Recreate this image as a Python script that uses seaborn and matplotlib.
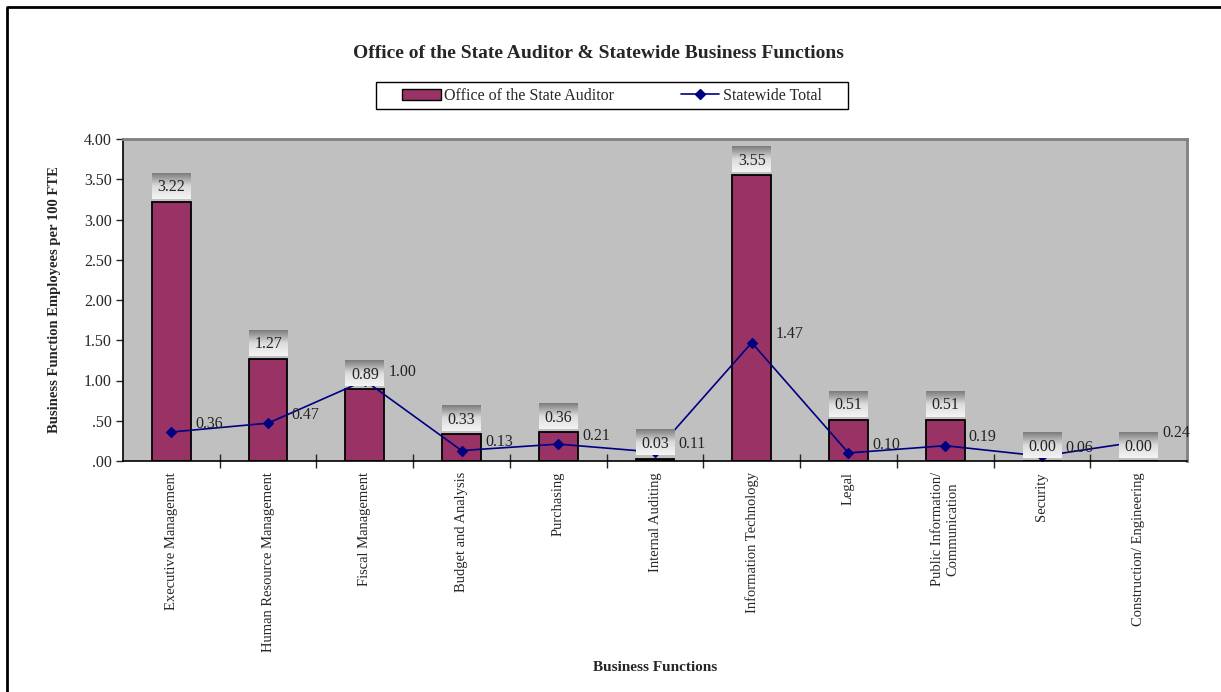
import numpy as np
import pandas as pd
import matplotlib
matplotlib.use("Agg")
import matplotlib.pyplot as plt
import seaborn as sns
from matplotlib.patches import Patch, Rectangle
from matplotlib.lines import Line2D
from matplotlib.colors import LinearSegmentedColormap
from matplotlib.ticker import FuncFormatter, FixedLocator

# data
functions = ["Executive Management", "Human Resource Management", "Fiscal Management",
             "Budget and Analysis", "Purchasing", "Internal Auditing",
             "Information Technology", "Legal", "Public Information/\nCommunication",
             "Security", "Construction/ Engineering"]
auditor = [3.22, 1.27, 0.89, 0.33, 0.36, 0.03, 3.55, 0.51, 0.51, 0.00, 0.00]
statewide = [0.36, 0.47, 1.00, 0.13, 0.21, 0.11, 1.47, 0.10, 0.19, 0.06, 0.24]

df = pd.DataFrame({"function": functions, "auditor": auditor, "statewide": statewide})

sns.set_theme(style="white")
plt.rcParams["font.family"] = ["Liberation Serif", "DejaVu Serif"]

bar_color = "#993366"
line_color = "#000080"

fig = plt.figure(figsize=(12.21, 6.92), dpi=100)
ax = fig.add_axes([123 / 1221, 1 - 461 / 692, (1187 - 123) / 1221, (461 - 139) / 692])
ax.set_facecolor("#c0c0c0")

sns.barplot(data=df, x="function", y="auditor", color=bar_color, saturation=1,
            width=0.4, edgecolor="black", linewidth=1.3, ax=ax, zorder=2)
sns.pointplot(data=df, x="function", y="statewide", color=line_color, markers="D",
              markersize=5, linewidth=1.2, errorbar=None, ax=ax)

# gradient label boxes above the bars
grad_cmap = LinearSegmentedColormap.from_list("lbl", ["#7c7c7c", "#dcdcdc", "#f4f4f4"])
grad = np.linspace(0, 1, 64).reshape(-1, 1)
for i, v in enumerate(auditor):
    ax.imshow(grad, cmap=grad_cmap, aspect="auto", interpolation="bilinear",
              extent=(i - 0.2, i + 0.2, v + 0.04, v + 0.36), zorder=4)
    ax.text(i, v + 0.18, f"{v:.2f}", ha="center", va="center", fontsize=11.5,
            color="#222222", zorder=5)

for i, v in enumerate(statewide):
    ax.annotate(f"{v:.2f}", (i, v), xytext=(17, 6), textcoords="offset points",
                ha="left", va="center", fontsize=11.5, color="#222222", zorder=5)

ax.set_xlim(-0.5, len(functions) - 0.5)
ax.set_ylim(0, 4)
ax.set_yticks(np.arange(0, 4.01, 0.5))
ax.yaxis.set_major_formatter(FuncFormatter(lambda v, p: f"{v:.2f}".lstrip("0") if v < 1 else f"{v:.2f}"))
ax.tick_params(axis="y", left=True, direction="out", length=5, width=1, labelsize=11.5, pad=3)

ax.set_xticks(range(len(functions)))
ax.set_xticklabels(functions, rotation=90, va="top", ha="center", fontsize=10.5)
ax.tick_params(axis="x", which="major", length=0, pad=8)
ax.xaxis.set_minor_locator(FixedLocator(np.arange(0.5, len(functions) - 0.5, 1)))
ax.tick_params(axis="x", which="minor", bottom=True, direction="inout", length=10, width=1)

for side in ["left", "bottom"]:
    ax.spines[side].set_color("black")
    ax.spines[side].set_linewidth(1.2)
for side in ["top", "right"]:
    ax.spines[side].set_color("#808080")
    ax.spines[side].set_linewidth(2)

ax.set_xlabel("Business Functions", fontsize=11, fontweight="bold", labelpad=0)
ax.xaxis.set_label_coords(0.5, -0.62)
ax.set_ylabel("Business Function Employees per 100 FTE", fontsize=10.5, fontweight="bold")
ax.yaxis.set_label_coords(-0.058, 0.5)

fig.text(598 / 1221, 1 - 53 / 692, "Office of the State Auditor & Statewide Business Functions",
         ha="center", va="center", fontsize=14, fontweight="bold")

# legend
fig.patches.append(Rectangle((376 / 1221, 1 - 109 / 692), (848 - 376) / 1221, 27 / 692,
                             transform=fig.transFigure, facecolor="white",
                             edgecolor="black", linewidth=1))
handles = [Patch(facecolor=bar_color, edgecolor="black", linewidth=1),
           Line2D([], [], color=line_color, marker="D", markersize=5, linewidth=1.2)]
fig.legend(handles, ["Office of the State Auditor", "Statewide Total"], loc="center",
           bbox_to_anchor=(612 / 1221, 1 - 96 / 692), ncol=2, frameon=False, fontsize=11.5,
           handlelength=2.4, handletextpad=0.2, columnspacing=4.2)

# outer frame (left and top edges)
fig.add_artist(Line2D([7 / 1221, 7 / 1221, 1], [0, 1 - 7 / 692, 1 - 7 / 692],
                      transform=fig.transFigure, color="black", linewidth=2))

fig.savefig("out.png", dpi=100)
